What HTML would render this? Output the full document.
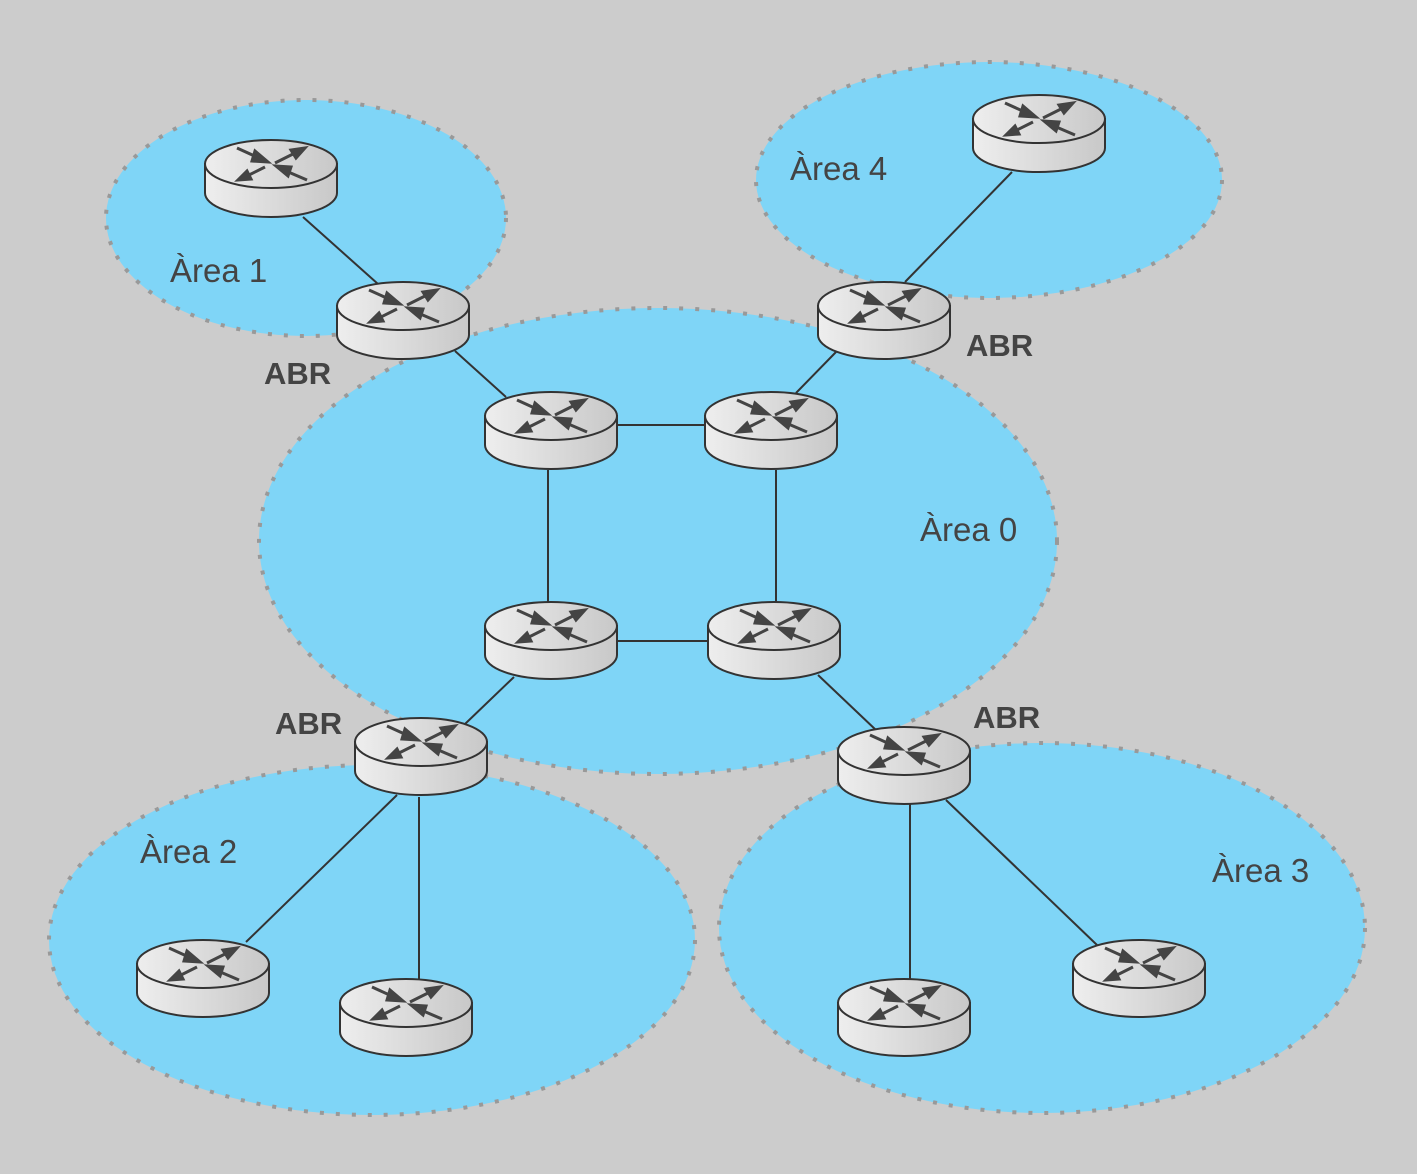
<!DOCTYPE html>
<html><head><meta charset="utf-8"><style>html,body{margin:0;padding:0;background:#cccccc;}svg{display:block}</style></head><body>
<svg width="1417" height="1174" viewBox="0 0 1417 1174" xmlns="http://www.w3.org/2000/svg">
<defs>
<linearGradient id="g" x1="0" x2="1" y1="0" y2="0"><stop offset="0" stop-color="#eeeeee"/><stop offset="1" stop-color="#c8c8c8"/></linearGradient>
<g id="r">
<path d="M-66,24 L-66,53 A66,24 0 0 0 66,53 L66,24 Z" fill="url(#g)" stroke="#333" stroke-width="2"/>
<ellipse cx="0" cy="24" rx="66" ry="24" fill="url(#g)" stroke="#333" stroke-width="2"/>
<g stroke="#444" stroke-width="3" fill="#444">
<line x1="-34" y1="8" x2="-12" y2="18"/><polygon points="-3,22 -16,11 -19,21"/>
<line x1="4" y1="23" x2="24" y2="13"/><polygon points="34,8 20,10 25,18"/>
<line x1="-6" y1="27" x2="-24" y2="36"/><polygon points="-33,40 -20,39 -24,31"/>
<line x1="36" y1="40" x2="15" y2="31"/><polygon points="5,26 17,36 20,27"/>
</g>
</g>
</defs>
<g fill="#7fd5f7" stroke="#999" stroke-width="4" stroke-dasharray="4 12">
<ellipse cx="306" cy="218" rx="200" ry="118"/>
<ellipse cx="989" cy="180" rx="233" ry="118"/>
<ellipse cx="658" cy="541" rx="399" ry="233"/>
<ellipse cx="372" cy="940" rx="323" ry="175"/>
<ellipse cx="1042" cy="928" rx="323" ry="185"/>
</g>
<g stroke="#333" stroke-width="2">
<line x1="303" y1="217" x2="378" y2="284"/>
<line x1="455" y1="351" x2="506" y2="397"/>
<line x1="617" y1="425" x2="705" y2="425"/>
<line x1="548" y1="470" x2="548" y2="602"/>
<line x1="776" y1="470" x2="776" y2="602"/>
<line x1="617" y1="641" x2="708" y2="641"/>
<line x1="905" y1="282" x2="1012" y2="172"/>
<line x1="836" y1="352" x2="796" y2="393"/>
<line x1="514" y1="677" x2="465" y2="724"/>
<line x1="818" y1="675" x2="877" y2="731"/>
<line x1="397" y1="795" x2="246" y2="942"/>
<line x1="419" y1="797" x2="419" y2="980"/>
<line x1="910" y1="803" x2="910" y2="980"/>
<line x1="946" y1="800" x2="1097" y2="945"/>
</g>
<use href="#r" x="271" y="140"/>
<use href="#r" x="403" y="282"/>
<use href="#r" x="1039" y="95"/>
<use href="#r" x="884" y="282"/>
<use href="#r" x="551" y="392"/>
<use href="#r" x="771" y="392"/>
<use href="#r" x="551" y="602"/>
<use href="#r" x="774" y="602"/>
<use href="#r" x="421" y="718"/>
<use href="#r" x="904" y="727"/>
<use href="#r" x="203" y="940"/>
<use href="#r" x="406" y="979"/>
<use href="#r" x="904" y="979"/>
<use href="#r" x="1139" y="940"/>
<g font-family="Liberation Sans, sans-serif" font-size="33" fill="#444">
<text x="170" y="282">Àrea 1</text>
<text x="790" y="180">Àrea 4</text>
<text x="920" y="541">Àrea 0</text>
<text x="140" y="863">Àrea 2</text>
<text x="1212" y="882">Àrea 3</text>
</g>
<g font-family="Liberation Sans, sans-serif" font-size="31" font-weight="bold" fill="#444">
<text x="264" y="384">ABR</text>
<text x="966" y="356">ABR</text>
<text x="275" y="734">ABR</text>
<text x="973" y="728">ABR</text>
</g>
</svg>
</body></html>
